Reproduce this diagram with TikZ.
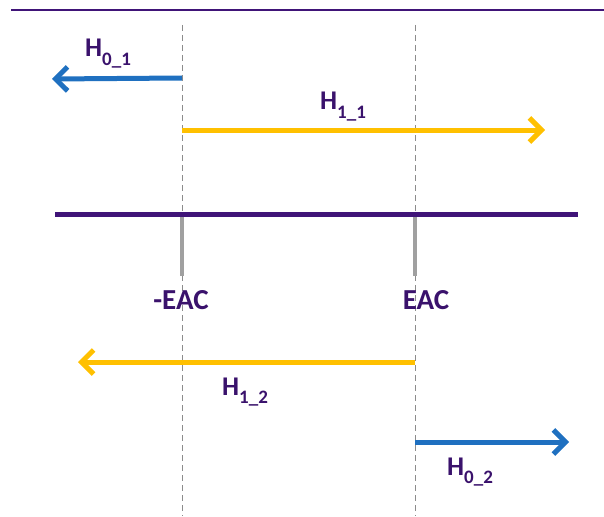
\documentclass[tikz,border=0pt]{standalone}
\usepackage{fontspec}
\setmainfont{Carlito}
\usetikzlibrary{arrows.meta}
\definecolor{txt}{RGB}{58,18,108}
\definecolor{axis}{RGB}{64,20,120}
\definecolor{hblue}{RGB}{31,112,192}
\definecolor{hyellow}{RGB}{255,192,0}
\definecolor{dgray}{RGB}{140,140,140}
\definecolor{tgray}{RGB}{160,160,160}
\newcommand{\hlab}[2]{H\raisebox{-0.3em}{\fontsize{19}{19}\selectfont #1\_#2}}
\tikzset{
  lab/.style={text=txt, font=\fontsize{27}{27}\selectfont\bfseries, inner sep=0pt, anchor=base west},
  eac/.style={text=txt, font=\fontsize{29}{29}\selectfont\bfseries, inner sep=0pt, anchor=base},
  harrow/.style={line width=5pt, -{Straight Barb[length=12pt,width=24pt,line width=5pt]}},
  guide/.style={dgray, line width=1pt, dash pattern=on 6pt off 4pt},
  tick/.style={tgray, line width=4pt},
}
\begin{document}
\begin{tikzpicture}[x=1pt,y=-1pt]
\useasboundingbox (0,0) rectangle (604,516);
% top rule
\coordinate (tl) at (11,10);
\coordinate (tr) at (604,10);
\draw[axis, line width=2pt] (tl) -- (tr);
% guide lines
\coordinate (g1t) at (182,25);
\coordinate (g1b) at (182,516);
\coordinate (g2t) at (415,25);
\coordinate (g2b) at (415,516);
\draw[guide] (g1t) -- (g1b);
\draw[guide] (g2t) -- (g2b);
% ticks
\coordinate (t1a) at (182,214);
\coordinate (t1b) at (182,276);
\coordinate (t2a) at (415,214);
\coordinate (t2b) at (415,276);
\draw[tick] (t1a) -- (t1b);
\draw[tick] (t2a) -- (t2b);
% main axis
\coordinate (al) at (55,214);
\coordinate (ar) at (578,214);
\draw[axis, line width=5pt] (al) -- (ar);
% arrows
\coordinate (a1s) at (182,78);
\coordinate (a1e) at (52,79);
\draw[harrow, hblue] (a1s) -- (a1e);
\coordinate (a2s) at (182,130);
\coordinate (a2e) at (545,130);
\draw[harrow, hyellow] (a2s) -- (a2e);
\coordinate (a3s) at (415,362);
\coordinate (a3e) at (78,362);
\draw[harrow, hyellow] (a3s) -- (a3e);
\coordinate (a4s) at (415,442);
\coordinate (a4e) at (569,442);
\draw[harrow, hblue] (a4s) -- (a4e);
% labels
\node[lab] (h01) at (85,57) {\hlab{0}{1}};
\node[lab] (h11) at (320,110) {\hlab{1}{1}};
\node[lab] (h12) at (222,395) {\hlab{1}{2}};
\node[lab] (h02) at (447,475) {\hlab{0}{2}};
\node[eac] (meac) at (181,309) {-EAC};
\node[eac] (peac) at (426,309) {EAC};
\end{tikzpicture}
\end{document}
